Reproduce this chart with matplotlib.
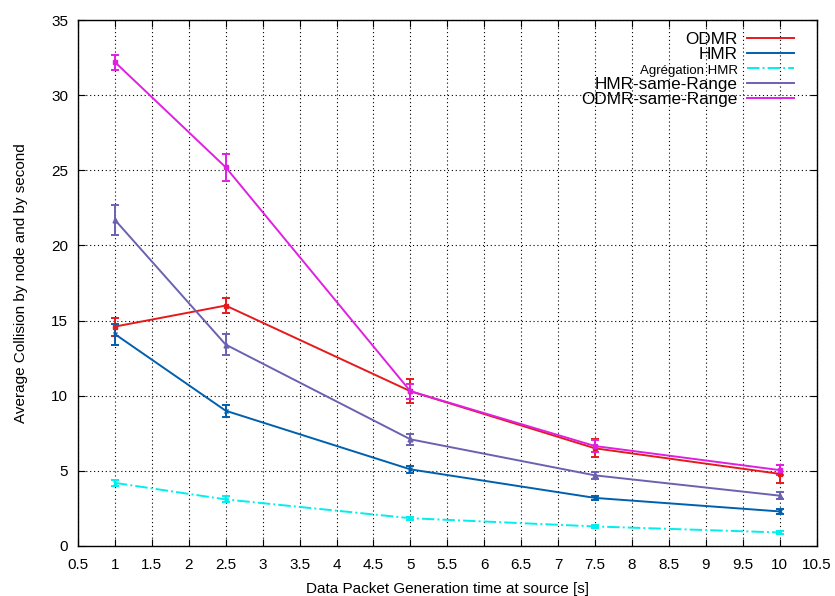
import matplotlib
matplotlib.use('Agg')
import matplotlib.pyplot as plt

plt.rcParams['font.family'] = ['Liberation Sans', 'DejaVu Sans']

# Temps de génération des paquets (s)
x = [1, 2.5, 5, 7.5, 10]

odmr = [14.6, 16.0, 10.3, 6.5, 4.8]
odmr_err = [0.6, 0.5, 0.8, 0.6, 0.6]

hmr = [14.1, 9.0, 5.1, 3.2, 2.3]
hmr_err = [0.7, 0.4, 0.25, 0.15, 0.15]

agg_hmr = [4.2, 3.1, 1.85, 1.3, 0.9]
agg_hmr_err = [0.2, 0.2, 0.1, 0.1, 0.1]

hmr_same = [21.7, 13.4, 7.1, 4.7, 3.35]
hmr_same_err = [1.0, 0.7, 0.35, 0.25, 0.25]

odmr_same = [32.2, 25.2, 10.3, 6.65, 5.05]
odmr_same_err = [0.5, 0.9, 0.5, 0.4, 0.35]

x_ticks = [0.5, 1, 1.5, 2, 2.5, 3, 3.5, 4, 4.5, 5, 5.5, 6, 6.5, 7, 7.5, 8, 8.5, 9, 9.5, 10, 10.5]
y_ticks = [0, 5, 10, 15, 20, 25, 30, 35]

fig = plt.figure(figsize=(8.35, 5.96), dpi=100)
ax = fig.add_axes([0.0934, 0.0839, 0.8846, 0.8825])

series = [
    ('ODMR', odmr, odmr_err, '#e41a1c', '-', 's'),
    ('HMR', hmr, hmr_err, '#0060ad', '-', 'x'),
    ('Agrégation HMR', agg_hmr, agg_hmr_err, '#00eeee', '-.', 'x'),
    ('HMR-same-Range', hmr_same, hmr_same_err, '#6a62b0', '-', '^'),
    ('ODMR-same-Range', odmr_same, odmr_same_err, '#e020e0', '-', 's'),
]

handles = []
for label, y, err, color, ls, mk in series:
    ax.errorbar(x, y, yerr=err, color=color, linestyle=ls, linewidth=1.4,
                marker=mk, markersize=3.5, capsize=3, elinewidth=1.4, capthick=1.4)
    h, = ax.plot([], [], color=color, linestyle=ls, linewidth=1.4, label=label)
    handles.append(h)

ax.set_xlim(0.5, 10.5)
ax.set_ylim(0, 35)
ax.set_xticks(x_ticks)
ax.set_xticklabels([f'{t:g}' for t in x_ticks])
ax.set_yticks(y_ticks)
ax.grid(True, color='black', linestyle=(0, (1, 2.5)), linewidth=0.8)
ax.tick_params(direction='in', top=True, right=True, length=5, labelsize=11)
ax.tick_params(axis='x', pad=9)
ax.tick_params(axis='y', pad=7)
for s in ax.spines.values():
    s.set_linewidth(1.0)

ax.set_xlabel('Data Packet Generation time at source [s]', fontsize=11, labelpad=6.5)
ax.set_ylabel('Average Collision by node and by second', fontsize=11, labelpad=17)

leg = ax.legend(handles=handles, loc='upper right', frameon=False, markerfirst=False,
                handlelength=2.8, handletextpad=0.5, labelspacing=0.0,
                borderaxespad=0.0, borderpad=0.0, fontsize=12.3,
                bbox_to_anchor=(0.970, 0.977))
for t in leg.get_texts():
    t.set_ha('right')
leg.get_texts()[2].set_fontsize(9.5)
# aligner le texte à droite
leg._legend_box.align = 'right'

fig.savefig('out.png', dpi=100)
